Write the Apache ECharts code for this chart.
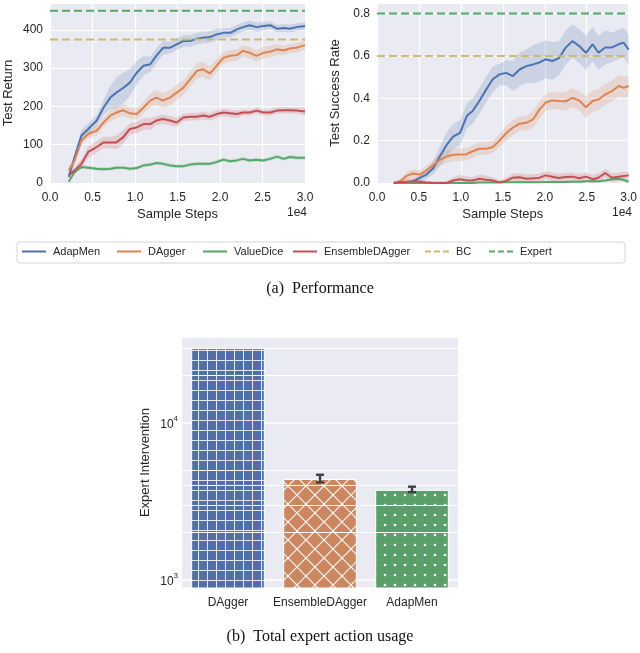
<!DOCTYPE html>
<html><head><meta charset="utf-8">
<script src="https://cdn.jsdelivr.net/npm/echarts@6/dist/echarts.min.js"></script>
<style>html,body{margin:0;padding:0;background:#fff}#c{width:640px;height:653px}</style>
</head><body><div id="c"></div>
<script>
// ---------- Data: Test Return (left) ----------
const retX = [0.22,0.29,0.37,0.45,0.55,0.63,0.71,0.78,0.86,0.94,1.02,1.10,1.18,1.25,1.33,1.41,1.49,1.57,1.65,1.73,1.80,1.88,1.96,2.04,2.12,2.20,2.27,2.35,2.43,2.51,2.59,2.67,2.75,2.82,2.90,3.00];
const retAdapMen = [16,68,124,141,163,197,223,236,248,262,288,306,310,332,353,353,362,371,371,377,379,381,388,392,392,401,407,412,407,410,412,403,405,403,407,410];
const retDAgger = [33,59,111,128,137,158,176,184,190,182,180,197,215,223,215,223,236,249,271,293,297,286,306,327,332,334,345,340,332,340,343,349,346,351,353,360];
const retValueDice = [3,29,42,40,37,36,37,40,40,37,39,46,48,52,50,46,44,44,48,50,50,50,55,61,57,59,63,59,61,59,63,69,63,68,66,66];
const retEnsemble = [20,33,50,81,94,106,106,106,119,141,145,154,154,163,167,163,158,171,173,173,176,173,180,184,182,180,184,184,189,184,184,189,190,190,189,187];
const retAdapMenSd = [5,10,15,15,15,20,30,40,40,35,30,25,20,20,18,15,15,15,15,15,15,15,15,12,12,12,12,12,12,12,10,10,10,10,10,10];
const retDAggerSd = [8,10,12,12,12,12,15,15,15,15,15,15,18,20,20,20,20,20,20,20,20,18,18,15,15,15,15,15,15,15,15,15,12,12,12,12];
const retValueDiceSd = [3,4,5,5,5,5,5,5,5,5,5,5,5,5,5,5,5,5,5,5,5,5,5,5,5,5,5,5,5,5,5,5,5,5,5,5];
const retEnsembleSd = [8,10,12,15,15,15,15,18,18,15,15,15,15,12,12,12,12,10,10,10,10,10,10,10,10,10,8,8,8,8,8,8,8,8,8,10];
const retBC = 375, retExpert = 450;

// ---------- Data: Test Success Rate (right) ----------
const sucX = [0.20,0.28,0.36,0.43,0.51,0.59,0.67,0.75,0.83,0.91,0.99,1.07,1.14,1.22,1.30,1.38,1.46,1.54,1.62,1.70,1.78,1.86,1.93,2.01,2.09,2.17,2.25,2.33,2.41,2.49,2.57,2.64,2.72,2.80,2.88,2.94,3.00];
const sucAdapMen = [0,0,0,0.008,0.024,0.04,0.07,0.126,0.18,0.22,0.237,0.316,0.34,0.387,0.44,0.49,0.513,0.52,0.505,0.536,0.552,0.56,0.568,0.584,0.576,0.59,0.64,0.67,0.647,0.615,0.655,0.615,0.64,0.64,0.655,0.663,0.63];
const sucDAgger = [0,0.01,0.035,0.045,0.04,0.06,0.085,0.11,0.125,0.133,0.134,0.136,0.15,0.162,0.162,0.17,0.2,0.235,0.262,0.28,0.284,0.3,0.343,0.38,0.39,0.387,0.386,0.402,0.39,0.358,0.387,0.394,0.418,0.434,0.458,0.45,0.458];
const sucValueDice = [0,0,0,0,0,0,0,0,0,0,0,0,0,0.002,0.002,0.002,0.002,0.003,0.003,0.003,0.004,0.004,0.004,0.005,0.005,0.005,0.005,0.006,0.006,0.008,0.01,0.008,0.012,0.018,0.02,0.015,0.006];
const sucEnsemble = [0,0.003,0.006,0.008,0.006,0.002,0,0,0,0.012,0.018,0.012,0.012,0.02,0.015,0.012,0.003,0.01,0.025,0.027,0.02,0.022,0.024,0.036,0.03,0.024,0.028,0.03,0.022,0.03,0.018,0.025,0.047,0.025,0.03,0.033,0.036];
const sucAdapMenSd = [0,0,0.005,0.01,0.015,0.02,0.03,0.045,0.06,0.06,0.06,0.06,0.06,0.06,0.06,0.06,0.05,0.06,0.07,0.08,0.08,0.09,0.09,0.09,0.09,0.08,0.08,0.08,0.08,0.08,0.08,0.08,0.08,0.07,0.07,0.07,0.07];
const sucDAggerSd = [0,0.01,0.02,0.02,0.02,0.02,0.025,0.03,0.03,0.03,0.03,0.03,0.03,0.03,0.03,0.03,0.03,0.035,0.035,0.035,0.035,0.04,0.04,0.04,0.04,0.04,0.045,0.045,0.045,0.05,0.05,0.05,0.05,0.05,0.05,0.05,0.05];
const sucValueDiceSd = [0,0,0,0,0,0,0,0,0,0,0,0,0,0.004,0.004,0.004,0.004,0.004,0.004,0.004,0.004,0.004,0.004,0.005,0.005,0.005,0.005,0.005,0.005,0.006,0.006,0.006,0.006,0.008,0.008,0.008,0.006];
const sucEnsembleSd = [0,0.01,0.015,0.015,0.015,0.01,0.01,0.01,0.01,0.015,0.02,0.02,0.015,0.02,0.02,0.015,0.01,0.015,0.02,0.02,0.02,0.02,0.02,0.02,0.02,0.02,0.02,0.02,0.02,0.02,0.02,0.02,0.02,0.02,0.02,0.02,0.02];
const sucBC = 0.6, sucExpert = 0.8;

// ---------- Data: Expert intervention (bottom) ----------
const barCats = ['DAgger','EnsembleDAgger','AdapMen'];
const barVals = [30000, 4400, 3750];
const barErrLo = [null, 4180, 3630];
const barErrHi = [null, 4680, 3930];
const minorGrid = [2000,3000,4000,5000,20000,30000];

// ---------- styling ----------
const C = {blue:'#4c72b0', orange:'#dd8452', green:'#55a868', red:'#c44e52', bc:'#ccb974'};
const FONT = 'Liberation Sans';
const TXT = '#262626';

const chart = echarts.init(document.getElementById('c'), null, {renderer:'canvas'});

function band(xi, xs, mean, sd, color){
  return {type:'custom', xAxisIndex:xi, yAxisIndex:xi, silent:true, z:1, clip:true,
    data: xs.map((x,i)=>[x, mean[i]-sd[i], mean[i]+sd[i]]),
    encode:{x:0, y:[1,2]},
    renderItem:function(params, api){
      if(params.dataIndex!==0) return;
      const up=[], lo=[];
      for(let i=0;i<xs.length;i++){
        up.push(api.coord([xs[i], mean[i]+sd[i]]));
        lo.push(api.coord([xs[i], mean[i]-sd[i]]));
      }
      return {type:'polygon', shape:{points: up.concat(lo.reverse())}, style:{fill:color, opacity:0.2}};
    }};
}
function line(xi, name, xs, ys, color){
  return {type:'line', name, xAxisIndex:xi, yAxisIndex:xi, z:3, symbol:'none', smooth:false,
    data: xs.map((x,i)=>[x, ys[i]]), lineStyle:{color, width:2}, itemStyle:{color}};
}
function hline(xi, name, y, color){
  return {type:'line', name, xAxisIndex:xi, yAxisIndex:xi, z:3, symbol:'none',
    data:[[0,y],[3,y]], lineStyle:{color, width:2, type:[8,4]}, itemStyle:{color}};
}

// patterns
function pat(w,h,bg,draw){
  const c=document.createElement('canvas'); c.width=w; c.height=h;
  const g=c.getContext('2d'); g.fillStyle=bg; g.fillRect(0,0,w,h); draw(g,w,h); return c;
}
const gridPat = pat(9,10,'#4f6fa6',(g,w,h)=>{g.fillStyle='rgba(255,255,255,0.85)'; g.fillRect(0,0,w,1); g.fillRect(0,0,1,h);});
const xPat = pat(18,18,'#cc8660',(g,w,h)=>{g.strokeStyle='rgba(255,255,255,0.95)'; g.lineWidth=1.2;
  g.beginPath(); g.moveTo(0,0); g.lineTo(w,h); g.moveTo(w,0); g.lineTo(0,h);
  g.moveTo(-w,0); g.lineTo(w,2*h); g.moveTo(0,-h); g.lineTo(2*w,h); g.stroke();});
const dotPat = pat(10,10,'#5a9f69',(g,w,h)=>{g.fillStyle='#fff'; g.beginPath(); g.arc(5,5,1.3,0,Math.PI*2); g.fill();});
const pats=[gridPat,xPat,dotPat];

const axisLbl = {color:TXT, fontSize:12, fontFamily:FONT};
const split = {show:true, lineStyle:{color:'#fff', width:1.2}};

const SOLID_ICON = 'path://M0,0h24v2h-24z';
const DASH_ICON = 'path://M0,0h6v2h-6z M9,0h6v2h-6z M18,0h6v2h-6z';
function legendAt(name, left, dashed){
  return {data:[name], left, top:246, icon: dashed?DASH_ICON:SOLID_ICON, itemWidth:24, itemHeight:2, itemGap:0, padding:0,
    textStyle:{color:TXT, fontSize:11, fontFamily:FONT, padding:[0,0,0,2]}, selectedMode:false};
}

const option = {
  animation:false,
  backgroundColor:'#fff',
  grid:[
    {left:50, top:3, width:255, height:180, show:true, backgroundColor:'#eaeaf2', borderWidth:0},
    {left:377, top:3, width:253, height:180, show:true, backgroundColor:'#eaeaf2', borderWidth:0},
    {left:182, top:337, width:276, height:251, show:true, backgroundColor:'#eaeaf2', borderWidth:0}
  ],
  xAxis:[
    {gridIndex:0, type:'value', min:0, max:3, interval:0.5, axisLine:{show:false}, axisTick:{show:false},
     axisLabel:Object.assign({margin:9, formatter:v=>v.toFixed(1)}, axisLbl), splitLine:split,
     name:'Sample Steps', nameLocation:'middle', nameGap:25, nameTextStyle:{color:TXT, fontSize:13, fontFamily:FONT}},
    {gridIndex:1, type:'value', min:0, max:3, interval:0.5, axisLine:{show:false}, axisTick:{show:false},
     axisLabel:Object.assign({margin:9, formatter:v=>v.toFixed(1)}, axisLbl), splitLine:split,
     name:'Sample Steps', nameLocation:'middle', nameGap:25, nameTextStyle:{color:TXT, fontSize:13, fontFamily:FONT}},
    {gridIndex:2, type:'category', data:barCats, axisLine:{show:false}, axisTick:{show:false},
     axisLabel:Object.assign({margin:9, interval:0}, axisLbl), splitLine:{show:false}}
  ],
  yAxis:[
    {gridIndex:0, type:'value', min:0, max:470, interval:100, axisLine:{show:false}, axisTick:{show:false},
     axisLabel:Object.assign({margin:7, showMaxLabel:false}, axisLbl), splitLine:split,
     name:'Test Return', nameLocation:'middle', nameGap:35, nameTextStyle:{color:TXT, fontSize:13, fontFamily:FONT}},
    {gridIndex:1, type:'value', min:0, max:0.85, interval:0.2, axisLine:{show:false}, axisTick:{show:false},
     axisLabel:Object.assign({margin:7, showMaxLabel:false, formatter:v=>v.toFixed(1)}, axisLbl), splitLine:split,
     name:'Test Success Rate', nameLocation:'middle', nameGap:35, nameTextStyle:{color:TXT, fontSize:13, fontFamily:FONT}},
    {gridIndex:2, type:'log', logBase:10, min:889, max:35300, axisLine:{show:false}, axisTick:{show:false},
     splitLine:{show:true, lineStyle:{color:'#fff', width:1.5}},
     axisLabel:{margin:4, showMinLabel:false, showMaxLabel:false, formatter:function(v){
        const e=Math.log10(v); if(Math.abs(e-Math.round(e))<1e-6) return '{b|10}{s|'+Math.round(e)+'}'; return '';},
       rich:{b:{fontSize:12, fontFamily:FONT, color:TXT, lineHeight:16, verticalAlign:'bottom'},
             s:{fontSize:8, fontFamily:FONT, color:TXT, verticalAlign:'top'}}},
     name:'Expert Intervention', nameLocation:'middle', nameGap:30, nameTextStyle:{color:TXT, fontSize:13, fontFamily:FONT}}
  ],
  legend:[
    legendAt('AdapMen',22,false), legendAt('DAgger',117,false), legendAt('ValueDice',203,false),
    legendAt('EnsembleDAgger',293,false), legendAt('BC',425,true), legendAt('Expert',489,true)
  ],
  graphic:[
    {type:'rect', z:-1, shape:{x:17, y:242, width:608, height:21, r:3}, style:{fill:'#fff', stroke:'#d4d4d4', lineWidth:1}},
    {type:'text', left:287, top:207, style:{text:'1e4', fill:TXT, font:'12px '+FONT}},
    {type:'text', left:612, top:207, style:{text:'1e4', fill:TXT, font:'12px '+FONT}},
    {type:'text', left:'center', top:281, style:{text:'(a)  Performance', fill:'#111', font:'16px "Liberation Serif"'}},
    {type:'text', left:'center', top:629, style:{text:'(b)  Total expert action usage', fill:'#111', font:'16px "Liberation Serif"'}}
  ],
  series:[
    band(0, retX, retAdapMen, retAdapMenSd, C.blue),
    band(0, retX, retDAgger, retDAggerSd, C.orange),
    band(0, retX, retValueDice, retValueDiceSd, C.green),
    band(0, retX, retEnsemble, retEnsembleSd, C.red),
    line(0,'AdapMen', retX, retAdapMen, C.blue),
    line(0,'DAgger', retX, retDAgger, C.orange),
    line(0,'ValueDice', retX, retValueDice, C.green),
    line(0,'EnsembleDAgger', retX, retEnsemble, C.red),
    hline(0,'BC', retBC, C.bc),
    hline(0,'Expert', retExpert, C.green),
    band(1, sucX, sucAdapMen, sucAdapMenSd, C.blue),
    band(1, sucX, sucDAgger, sucDAggerSd, C.orange),
    band(1, sucX, sucValueDice, sucValueDiceSd, C.green),
    band(1, sucX, sucEnsemble, sucEnsembleSd, C.red),
    line(1,'AdapMen', sucX, sucAdapMen, C.blue),
    line(1,'DAgger', sucX, sucDAgger, C.orange),
    line(1,'ValueDice', sucX, sucValueDice, C.green),
    line(1,'EnsembleDAgger', sucX, sucEnsemble, C.red),
    hline(1,'BC', sucBC, C.bc),
    hline(1,'Expert', sucExpert, C.green),
    {type:'line', xAxisIndex:2, yAxisIndex:2, data:[], z:1, silent:true,
     markLine:{silent:true, symbol:'none', label:{show:false}, lineStyle:{color:'#fff', width:1, type:'solid'},
       data: minorGrid.map(v=>({yAxis:v}))}},
    {type:'bar', xAxisIndex:2, yAxisIndex:2, z:2, barCategoryGap:'20%', silent:true,
     data: barVals.map((v,i)=>({value:v, itemStyle:{color:{image:pats[i], repeat:'repeat'}, borderColor:'#fff', borderWidth:1}}))},
    {type:'custom', xAxisIndex:2, yAxisIndex:2, z:5, silent:true,
     data: barCats.map((c,i)=>[i, barErrLo[i], barErrHi[i]]).filter(d=>d[1]!=null),
     encode:{x:0, y:[1,2]},
     renderItem:function(params, api){
       const a=api.coord([api.value(0), api.value(1)]), b=api.coord([api.value(0), api.value(2)]);
       const st={stroke:'#3f3f3f', lineWidth:2.4};
       return {type:'group', children:[
         {type:'line', shape:{x1:a[0],y1:a[1],x2:b[0],y2:b[1]}, style:st},
         {type:'line', shape:{x1:a[0]-4,y1:a[1],x2:a[0]+4,y2:a[1]}, style:st},
         {type:'line', shape:{x1:b[0]-4,y1:b[1],x2:b[0]+4,y2:b[1]}, style:st}]};
     }}
  ]
};
chart.setOption(option);
</script></body></html>
